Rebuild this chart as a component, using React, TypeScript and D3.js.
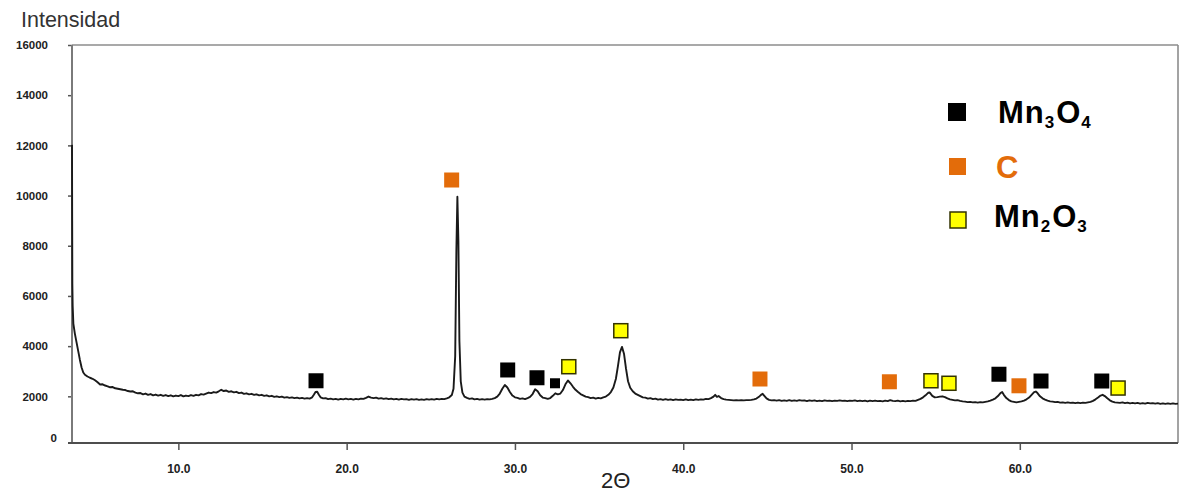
import { useEffect, useRef } from "react";
import * as d3 from "d3";

// ticks
const xTicks = [10, 20, 30, 40, 50, 60];
const yTicks = [2000, 4000, 6000, 8000, 10000, 12000, 14000, 16000];

// diffractogram, [2θ, intensity]
const pattern: [number, number][] = [
  [3.68, 12020], [3.69, 9000], [3.7, 6500], [3.72, 5600], [3.76, 4900], [3.85, 4500],
  [3.95, 4150], [4.05, 3800], [4.15, 3450], [4.25, 3150], [4.35, 2950], [4.45, 2860],
  [4.6, 2790], [4.75, 2740], [4.9, 2700], [5.05, 2640], [5.2, 2560], [5.35, 2470],
  [5.5, 2480], [5.65, 2430], [5.8, 2400], [5.95, 2360], [6.1, 2370], [6.25, 2320],
  [6.4, 2300], [6.55, 2280], [6.7, 2260], [6.85, 2250], [7.0, 2210], [7.15, 2190],
  [7.3, 2200], [7.45, 2150], [7.6, 2120], [7.75, 2130], [7.9, 2080], [8.05, 2110],
  [8.2, 2060], [8.35, 2090], [8.5, 2040], [8.65, 2070], [8.8, 2030], [8.95, 2060],
  [9.1, 2020], [9.25, 2050], [9.4, 2010], [9.55, 2040], [9.7, 2000], [9.85, 2030],
  [10.0, 2010], [10.15, 2050], [10.3, 2000], [10.45, 2030], [10.6, 2010], [10.75, 2050],
  [10.9, 2020], [11.05, 2060], [11.2, 2040], [11.35, 2090], [11.5, 2070], [11.65, 2110],
  [11.8, 2150], [11.95, 2130], [12.1, 2170], [12.25, 2150], [12.4, 2200], [12.55, 2260],
  [12.7, 2210], [12.85, 2230], [13.0, 2180], [13.15, 2200], [13.3, 2160], [13.45, 2180],
  [13.6, 2130], [13.75, 2150], [13.9, 2100], [14.05, 2120], [14.2, 2080], [14.35, 2100],
  [14.5, 2060], [14.65, 2080], [14.8, 2040], [14.95, 2060], [15.1, 2020], [15.25, 2040],
  [15.4, 2000], [15.55, 2020], [15.7, 1980], [15.85, 2000], [16.0, 1970], [16.15, 1990],
  [16.3, 1950], [16.45, 1970], [16.6, 1940], [16.75, 1960], [16.9, 1930], [17.05, 1950],
  [17.2, 1920], [17.35, 1940], [17.5, 1910], [17.65, 1930], [17.8, 1910], [17.95, 1960],
  [18.05, 2060], [18.15, 2170], [18.25, 2180], [18.35, 2060], [18.45, 1960], [18.6, 1920],
  [18.75, 1930], [18.9, 1890], [19.05, 1910], [19.2, 1880], [19.35, 1900], [19.5, 1870],
  [19.65, 1900], [19.8, 1880], [19.95, 1910], [20.1, 1880], [20.25, 1900], [20.4, 1870],
  [20.55, 1900], [20.7, 1880], [20.85, 1910], [21.0, 1900], [21.15, 1940], [21.3, 1990],
  [21.45, 1950], [21.6, 1930], [21.75, 1950], [21.9, 1910], [22.05, 1930], [22.2, 1900],
  [22.35, 1920], [22.5, 1890], [22.65, 1910], [22.8, 1880], [22.95, 1900], [23.1, 1870],
  [23.25, 1900], [23.4, 1880], [23.55, 1890], [23.7, 1860], [23.85, 1890], [24.0, 1870],
  [24.15, 1890], [24.3, 1860], [24.45, 1880], [24.6, 1860], [24.75, 1890], [24.9, 1870],
  [25.05, 1890], [25.2, 1870], [25.35, 1900], [25.5, 1880], [25.65, 1900], [25.8, 1890],
  [25.95, 1920], [26.1, 1960], [26.25, 2050], [26.35, 2300], [26.45, 3600], [26.52, 7800],
  [26.58, 9950], [26.64, 8200], [26.7, 4200], [26.78, 2600], [26.88, 2150], [27.0, 1990],
  [27.15, 1940], [27.3, 1900], [27.45, 1920], [27.6, 1880], [27.75, 1900], [27.9, 1870],
  [28.05, 1890], [28.2, 1870], [28.35, 1890], [28.5, 1880], [28.65, 1900], [28.8, 1930],
  [28.95, 1990], [29.1, 2110], [29.25, 2300], [29.4, 2450], [29.55, 2350], [29.7, 2170],
  [29.85, 2030], [30.0, 1960], [30.15, 1940], [30.3, 1900], [30.45, 1920], [30.6, 1890],
  [30.75, 1930], [30.9, 1980], [31.05, 2090], [31.2, 2280], [31.35, 2200], [31.5, 2040],
  [31.65, 1950], [31.8, 1930], [31.95, 1900], [32.1, 1930], [32.25, 2020], [32.4, 2120],
  [32.55, 2080], [32.7, 2110], [32.85, 2250], [33.0, 2480], [33.15, 2630], [33.3, 2520],
  [33.45, 2380], [33.6, 2260], [33.75, 2170], [33.9, 2090], [34.05, 2040], [34.2, 1990],
  [34.35, 1970], [34.5, 1930], [34.65, 1950], [34.8, 1910], [34.95, 1940], [35.1, 1920],
  [35.25, 1960], [35.4, 1990], [35.55, 2060], [35.7, 2170], [35.85, 2350], [36.0, 2700],
  [36.12, 3200], [36.24, 3750], [36.36, 3970], [36.48, 3700], [36.6, 3100], [36.72, 2600],
  [36.85, 2340], [37.0, 2200], [37.15, 2110], [37.3, 2060], [37.45, 2010], [37.6, 1960],
  [37.75, 1950], [37.9, 1910], [38.05, 1930], [38.2, 1890], [38.35, 1910], [38.5, 1870],
  [38.65, 1890], [38.8, 1860], [38.95, 1890], [39.1, 1860], [39.25, 1880], [39.4, 1850],
  [39.55, 1880], [39.7, 1860], [39.85, 1870], [40.0, 1850], [40.15, 1880], [40.3, 1850],
  [40.45, 1870], [40.6, 1850], [40.75, 1880], [40.9, 1860], [41.05, 1880], [41.2, 1870],
  [41.35, 1900], [41.5, 1890], [41.65, 1930], [41.8, 1990], [41.9, 2060], [42.0, 1980],
  [42.1, 2010], [42.25, 1930], [42.4, 1890], [42.55, 1870], [42.7, 1860], [42.85, 1850],
  [43.0, 1840], [43.15, 1850], [43.3, 1840], [43.45, 1850], [43.6, 1840], [43.75, 1850],
  [43.9, 1850], [44.05, 1860], [44.2, 1880], [44.35, 1910], [44.5, 1980], [44.62, 2060],
  [44.72, 2100], [44.82, 2020], [44.95, 1920], [45.1, 1860], [45.25, 1840], [45.4, 1850],
  [45.55, 1830], [45.7, 1850], [45.85, 1820], [46.0, 1840], [46.15, 1820], [46.3, 1850],
  [46.45, 1820], [46.6, 1840], [46.75, 1820], [46.9, 1850], [47.05, 1830], [47.2, 1840],
  [47.35, 1810], [47.5, 1840], [47.65, 1820], [47.8, 1840], [47.95, 1810], [48.1, 1830],
  [48.25, 1810], [48.4, 1840], [48.55, 1820], [48.7, 1830], [48.85, 1810], [49.0, 1830],
  [49.15, 1820], [49.3, 1840], [49.45, 1820], [49.6, 1830], [49.75, 1810], [49.9, 1830],
  [50.05, 1820], [50.2, 1840], [50.35, 1810], [50.5, 1830], [50.65, 1810], [50.8, 1830],
  [50.95, 1800], [51.1, 1830], [51.25, 1810], [51.4, 1830], [51.55, 1810], [51.7, 1820],
  [51.85, 1800], [52.0, 1830], [52.15, 1810], [52.3, 1850], [52.45, 1820], [52.6, 1810],
  [52.75, 1830], [52.9, 1800], [53.05, 1820], [53.2, 1800], [53.35, 1820], [53.5, 1810],
  [53.65, 1830], [53.8, 1820], [53.95, 1860], [54.1, 1900], [54.25, 1960], [54.4, 2040],
  [54.55, 2140], [54.65, 2150], [54.8, 2020], [54.95, 1960], [55.1, 1970], [55.25, 1990],
  [55.4, 2000], [55.55, 1970], [55.7, 1920], [55.85, 1880], [56.0, 1860], [56.15, 1840],
  [56.3, 1850], [56.45, 1820], [56.6, 1800], [56.75, 1790], [56.9, 1770], [57.05, 1780],
  [57.2, 1760], [57.35, 1770], [57.5, 1750], [57.65, 1770], [57.8, 1760], [57.95, 1780],
  [58.1, 1800], [58.25, 1830], [58.4, 1870], [58.55, 1920], [58.7, 2010], [58.85, 2130],
  [58.95, 2170], [59.05, 2060], [59.2, 1930], [59.35, 1850], [59.5, 1800], [59.65, 1780],
  [59.8, 1760], [59.95, 1780], [60.1, 1800], [60.25, 1830], [60.4, 1880], [60.55, 1950],
  [60.7, 2060], [60.85, 2170], [60.95, 2190], [61.05, 2130], [61.2, 2000], [61.35, 1920],
  [61.5, 1870], [61.65, 1830], [61.8, 1800], [61.95, 1790], [62.1, 1770], [62.25, 1780],
  [62.4, 1750], [62.55, 1760], [62.7, 1740], [62.85, 1760], [63.0, 1740], [63.15, 1750],
  [63.3, 1730], [63.45, 1750], [63.6, 1730], [63.75, 1750], [63.9, 1740], [64.05, 1760],
  [64.2, 1780], [64.35, 1820], [64.5, 1880], [64.65, 1950], [64.8, 2030], [64.92, 2060],
  [65.05, 2010], [65.2, 1920], [65.35, 1840], [65.5, 1790], [65.65, 1760], [65.8, 1750],
  [65.95, 1740], [66.1, 1760], [66.25, 1730], [66.4, 1750], [66.55, 1720], [66.7, 1740],
  [66.85, 1720], [67.0, 1740], [67.15, 1710], [67.3, 1730], [67.45, 1710], [67.6, 1740],
  [67.75, 1720], [67.9, 1730], [68.05, 1710], [68.2, 1730], [68.35, 1700], [68.5, 1720],
  [68.65, 1700], [68.8, 1720], [68.95, 1700], [69.1, 1720], [69.25, 1700], [69.4, 1710],
];

// phase markers, [2θ, intensity]
const mn3o4Marks: [number, number][] = [
  [18.18, 2620], [29.57, 3050], [31.31, 2740], [58.76, 2880], [61.26, 2610], [64.87, 2610],
];
const mn3o4MinorMarks: [number, number][] = [[32.38, 2520]];
const carbonMarks: [number, number][] = [
  [26.24, 10620], [44.56, 2690], [52.25, 2580], [59.95, 2420],
];
const mn2o3Marks: [number, number][] = [
  [33.2, 3180], [36.29, 4615], [54.72, 2620], [55.79, 2520], [65.84, 2330],
];

const FONT = "'Liberation Sans', Arial, Helvetica, sans-serif";
const ORANGE = "#e36c0a";
const YELLOW = "#ffff00";

export default function App() {
  const svgRef = useRef<SVGSVGElement>(null);

  useEffect(() => {
    const svg = d3.select(svgRef.current);
    svg.selectAll("*").remove();

    const left = 72;
    const right = 1178;
    const top = 45;
    const bottom = 443;

    const x = d3.scaleLinear().domain([3.68, 69.4]).range([left, right]);
    const y = d3.scaleLinear().domain([140, 16000]).range([bottom, top]);

    svg.append("rect").attr("width", 1186).attr("height", 492).attr("fill", "#fff");

    // frame
    svg.append("line")
      .attr("x1", left).attr("x2", right).attr("y1", top).attr("y2", top)
      .attr("stroke", "#8c8c8c").attr("stroke-width", 1.6);
    svg.append("line")
      .attr("x1", right).attr("x2", right).attr("y1", top).attr("y2", bottom)
      .attr("stroke", "#8c8c8c").attr("stroke-width", 1.6);

    // y axis
    const yAxis = svg.append("g")
      .attr("transform", `translate(${left},0)`)
      .call(d3.axisLeft(y).tickValues(yTicks).tickSize(4).tickPadding(20).tickFormat(d3.format("d")));
    yAxis.select(".domain").remove();
    yAxis.selectAll("line").attr("stroke", "#555").attr("stroke-width", 1.5);
    yAxis.selectAll("text")
      .attr("font-family", FONT).attr("font-size", 11.5).attr("font-weight", "bold").attr("fill", "#222");
    svg.append("line")
      .attr("x1", left).attr("x2", left).attr("y1", top).attr("y2", bottom)
      .attr("stroke", "#7a7a7a").attr("stroke-width", 2);
    svg.append("text")
      .attr("x", 57).attr("y", bottom - 5).attr("dy", "0.35em").attr("text-anchor", "end")
      .attr("font-family", FONT).attr("font-size", 11.5).attr("font-weight", "bold").attr("fill", "#222")
      .text("0");

    // x axis
    const xAxis = svg.append("g")
      .attr("transform", `translate(0,${bottom})`)
      .call(d3.axisBottom(x).tickValues(xTicks).tickSize(7).tickPadding(14).tickFormat(d3.format(".1f")));
    xAxis.select(".domain").remove();
    xAxis.selectAll("line").attr("stroke", "#555").attr("stroke-width", 1.5);
    xAxis.selectAll("text")
      .attr("font-family", FONT).attr("font-size", 12).attr("font-weight", "bold").attr("fill", "#222");
    svg.append("line")
      .attr("x1", left - 4).attr("x2", right).attr("y1", bottom).attr("y2", bottom)
      .attr("stroke", "#4d4d4d").attr("stroke-width", 2);

    // titles
    svg.append("text")
      .attr("x", 21).attr("y", 27)
      .attr("font-family", FONT).attr("font-size", 21.5).attr("fill", "#333")
      .text("Intensidad");
    svg.append("text")
      .attr("x", 601).attr("y", 488)
      .attr("font-family", FONT).attr("font-size", 22).attr("fill", "#222")
      .text("2Θ");

    // pattern
    const line = d3.line<[number, number]>()
      .x((d) => x(d[0]))
      .y((d) => y(d[1]));
    svg.append("path")
      .datum(pattern)
      .attr("d", line)
      .attr("fill", "none")
      .attr("stroke", "#1a1a1a")
      .attr("stroke-width", 1.9)
      .attr("stroke-linejoin", "round");

    // markers
    const drawMarks = (
      marks: [number, number][],
      size: number,
      fill: string,
      stroke: string,
      strokeWidth: number
    ) => {
      svg.append("g")
        .selectAll("rect")
        .data(marks)
        .join("rect")
        .attr("x", (d) => x(d[0]) - size / 2)
        .attr("y", (d) => y(d[1]) - size / 2)
        .attr("width", size)
        .attr("height", size)
        .attr("fill", fill)
        .attr("stroke", stroke)
        .attr("stroke-width", strokeWidth);
    };
    drawMarks(mn3o4Marks, 15, "#000", "none", 0);
    drawMarks(mn3o4MinorMarks, 10, "#000", "none", 0);
    drawMarks(carbonMarks, 15, ORANGE, "none", 0);
    drawMarks(mn2o3Marks, 14, YELLOW, "#333300", 1.5);

    // legend
    const legend = svg.append("g").attr("font-family", FONT).attr("font-weight", "bold");
    legend.append("rect")
      .attr("x", 948).attr("y", 103).attr("width", 18).attr("height", 18).attr("fill", "#000");
    legend.append("rect")
      .attr("x", 949).attr("y", 158).attr("width", 17).attr("height", 17).attr("fill", ORANGE);
    legend.append("rect")
      .attr("x", 950).attr("y", 212).attr("width", 16).attr("height", 16)
      .attr("fill", YELLOW).attr("stroke", "#333300").attr("stroke-width", 1.5);

    const formula = (xPos: number, yPos: number, parts: [string, boolean][]) => {
      const t = legend.append("text").attr("x", xPos).attr("y", yPos).attr("fill", "#000");
      parts.forEach(([s, sub], i) => {
        t.append("tspan")
          .attr("font-size", sub ? 17 : 31)
          .attr("letter-spacing", sub ? 0 : 1)
          .attr("dx", sub ? 0 : i === 0 ? 0 : 2)
          .attr("dy", sub ? 5 : i === 0 ? 0 : -5)
          .text(s);
      });
    };
    formula(998, 123, [["Mn", false], ["3", true], ["O", false], ["4", true]]);
    legend.append("text")
      .attr("x", 996).attr("y", 178).attr("font-size", 31).attr("fill", ORANGE)
      .text("C");
    formula(994, 227, [["Mn", false], ["2", true], ["O", false], ["3", true]]);
  }, []);

  return (
    <svg
      ref={svgRef}
      width={1186}
      height={492}
      style={{ position: "absolute", left: 0, top: 0, display: "block" }}
    />
  );
}
